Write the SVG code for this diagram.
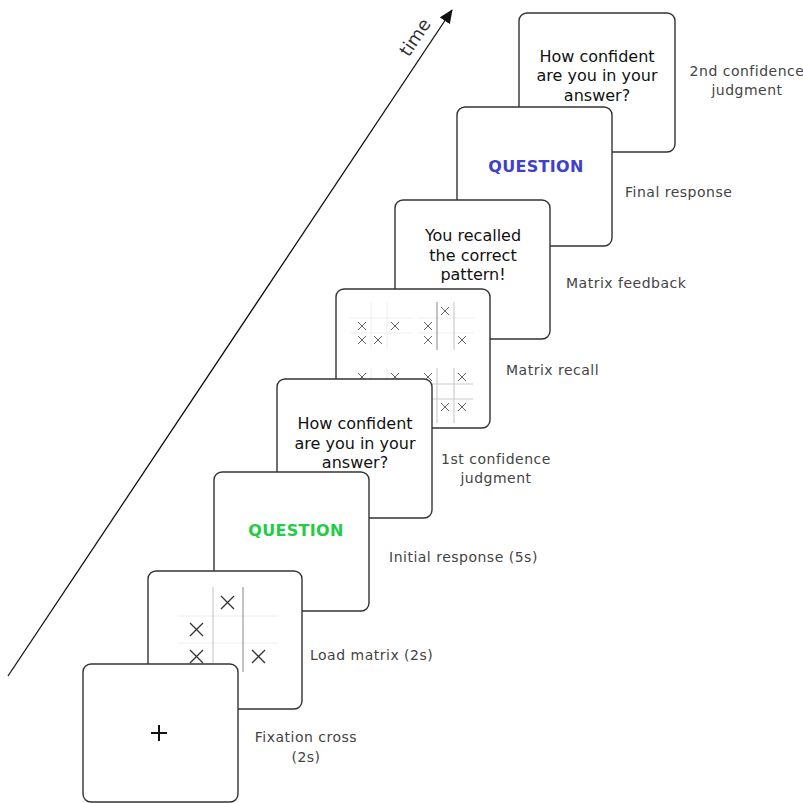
<svg xmlns="http://www.w3.org/2000/svg" width="803" height="803" viewBox="0 0 803 803">
<style>
.card{fill:#fff;stroke:#333;stroke-width:1.4}
.ct{font-family:"DejaVu Sans",Verdana,sans-serif;font-size:16px;fill:#111;text-anchor:middle}
.q{font-family:"DejaVu Sans",Verdana,sans-serif;font-size:16px;font-weight:bold;text-anchor:middle;letter-spacing:0.3px}
.lb{font-family:"DejaVu Sans",Verdana,sans-serif;font-size:14px;fill:#444;letter-spacing:0.5px}
.lbm{font-family:"DejaVu Sans",Verdana,sans-serif;font-size:14px;fill:#444;text-anchor:middle;letter-spacing:0.5px}
.xb{stroke:#333;stroke-width:1.3;fill:none}
.xs{stroke:#666;stroke-width:1;fill:none}
.g1{stroke:#eee;stroke-width:1}
.g2{stroke:#ccc;stroke-width:1.2}
.g3{stroke:#999;stroke-width:1.2}
</style>
<defs>
<marker id="ah" markerWidth="14" markerHeight="12" refX="13" refY="6" orient="auto" markerUnits="userSpaceOnUse">
<path d="M0,0 L14,6 L0,12 Z" fill="#111"/>
</marker>
</defs>
<g id="connectors">
<line x1="8" y1="676" x2="452" y2="10" stroke="#111" stroke-width="1.3" marker-end="url(#ah)"/>
<text x="0" y="5" transform="translate(416,38) rotate(-56)" style="font-family:'DejaVu Sans',Verdana,sans-serif;font-size:18px;fill:#333;text-anchor:middle">time</text>
</g>
<g id="card8">
<rect class="card" x="519" y="13" width="156" height="139" rx="8"/>
<text class="ct" x="597" y="62">How confident</text>
<text class="ct" x="597" y="81">are you in your</text>
<text class="ct" x="597" y="101">answer?</text>
<text class="lbm" x="747" y="76">2nd confidence</text>
<text class="lbm" x="747" y="95">judgment</text>
</g>
<g id="card7">
<rect class="card" x="457" y="107" width="155" height="139" rx="8"/>
<text class="q" x="536" y="172" fill="#4040cc">QUESTION</text>
<text class="lb" x="625" y="197">Final response</text>
</g>
<g id="card6">
<rect class="card" x="395" y="200" width="155" height="139" rx="8"/>
<text class="ct" x="473" y="241">You recalled</text>
<text class="ct" x="473" y="261">the correct</text>
<text class="ct" x="473" y="280">pattern!</text>
<text class="lb" x="566" y="288">Matrix feedback</text>
</g>
<g id="card5">
<rect class="card" x="336" y="289" width="154" height="139" rx="8"/>
<line class="g1" x1="350" y1="318" x2="412" y2="318"/>
<line class="g1" x1="350" y1="333" x2="412" y2="333"/>
<line class="g1" x1="371" y1="302" x2="371" y2="349"/>
<line class="g1" x1="387" y1="302" x2="387" y2="349"/>
<line class="g1" x1="418" y1="318" x2="474" y2="318"/>
<line class="g1" x1="418" y1="333" x2="474" y2="333"/>
<line class="g3" x1="437" y1="302" x2="437" y2="350"/>
<line class="g2" x1="454" y1="302" x2="454" y2="350"/>
<line class="g1" x1="371" y1="368" x2="371" y2="416"/>
<line class="g1" x1="387" y1="368" x2="387" y2="416"/>
<line class="g2" x1="432" y1="384" x2="473" y2="384"/>
<line class="g2" x1="432" y1="399" x2="473" y2="399"/>
<line class="g2" x1="437" y1="368" x2="437" y2="423"/>
<line class="g2" x1="454" y1="368" x2="454" y2="423"/>
<path class="xs" d="M358,322 l8,8 M366,322 l-8,8 M391,322 l8,8 M399,322 l-8,8 M358,336 l8,8 M366,336 l-8,8 M374,336 l8,8 M382,336 l-8,8"/>
<path class="xs" d="M441,307 l8,8 M449,307 l-8,8 M424,322 l8,8 M432,322 l-8,8 M424,336 l8,8 M432,336 l-8,8 M458,336 l8,8 M466,336 l-8,8"/>
<path class="xs" d="M358,373 l8,8 M366,373 l-8,8 M391,373 l8,8 M399,373 l-8,8 M424,373 l8,8 M432,373 l-8,8 M458,373 l8,8 M466,373 l-8,8 M441,403 l8,8 M449,403 l-8,8 M458,403 l8,8 M466,403 l-8,8"/>
<text class="lb" x="506" y="375">Matrix recall</text>
</g>
<g id="card4">
<rect class="card" x="277" y="379" width="155" height="139" rx="8"/>
<text class="ct" x="355" y="429">How confident</text>
<text class="ct" x="355" y="449">are you in your</text>
<text class="ct" x="355" y="468">answer?</text>
<text class="lbm" x="496" y="464">1st confidence</text>
<text class="lbm" x="496" y="483">judgment</text>
</g>
<g id="card3">
<rect class="card" x="214" y="472" width="155" height="139" rx="8"/>
<text class="q" x="296" y="536" fill="#22cc44">QUESTION</text>
<text class="lb" x="389" y="562">Initial response (5s)</text>
</g>
<g id="card2">
<rect class="card" x="148" y="571" width="154" height="138" rx="8"/>
<line class="g1" x1="178" y1="616" x2="278" y2="616"/>
<line class="g1" x1="178" y1="643" x2="278" y2="643"/>
<line class="g2" x1="213" y1="587" x2="213" y2="672"/>
<line class="g3" x1="243" y1="587" x2="243" y2="672"/>
<path class="xb" d="M221,596 l13,13 M234,596 l-13,13 M190,623 l13,13 M203,623 l-13,13 M190,650 l13,13 M203,650 l-13,13 M252,650 l13,13 M265,650 l-13,13"/>
<text class="lb" x="310" y="660">Load matrix (2s)</text>
</g>
<g id="card1">
<rect class="card" x="83" y="664" width="155" height="138" rx="8"/>
<path d="M151,733 h16 M159,725 v16" stroke="#111" stroke-width="2" fill="none"/>
<text class="lbm" x="306" y="742">Fixation cross</text>
<text class="lbm" x="306" y="762">(2s)</text>
</g>
</svg>
